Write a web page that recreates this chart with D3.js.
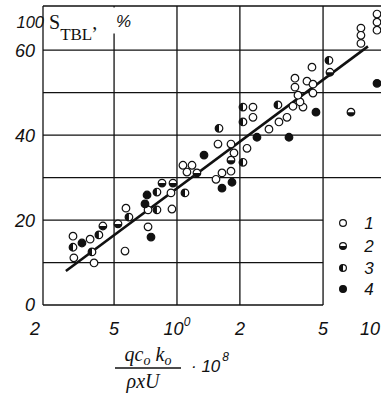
<!DOCTYPE html>
<html>
<head>
<meta charset="utf-8">
<script src="https://cdn.jsdelivr.net/npm/d3@7"></script>
<style>
  body { margin: 0; background: #fff; }
  text { fill: #111; }
</style>
</head>
<body>
<svg id="chart" width="381" height="400"></svg>
<script>
// x: q c0 k0 / (rho x U) * 1e8 (log), y: 100 S_TBL, %
const series1 = [ // open circles
  [0.318,16.2],[0.384,15.5],[0.321,11.1],[0.401,9.9],[0.570,22.8],[0.564,12.7],
  [0.727,22.4],[0.727,18.4],[0.936,26.4],[0.946,22.6],[1.068,32.9],[1.18,32.9],
  [1.116,31.3],[1.571,37.9],[1.813,37.9],[1.874,35.8],[2.163,36.9],[1.813,31.5],
  [1.642,31.1],[1.537,29.6],[2.310,46.6],[2.310,44.2],[2.755,41.4],[3.076,43.1],
  [3.360,44.2],[3.589,46.8],[4.009,46.6],[3.878,47.8],[3.793,49.4],[3.669,51.3],
  [4.474,49.9],[3.669,53.4],[4.188,52.7],[4.474,52.0],[4.425,56.0],
  [7.59,65.2],[7.59,63.5],[7.59,61.6],[9.06,68.5],[9.06,66.6],[9.06,64.7]
];
const series2 = [ // lower half filled
  [0.442,18.6],[0.522,19.1],[0.848,28.7],[0.957,28.7],[1.246,31.1],[1.813,34.1],
  [5.396,54.8],[6.80,45.4]
];
const series3 = [ // left half filled
  [0.318,13.6],[0.423,16.5],[0.392,12.5],[0.589,20.7],[0.802,26.6],[0.802,22.4],
  [1.092,26.4],[2.069,33.6],[1.589,41.6],[2.069,46.6],[2.069,43.1],[3.042,47.1],
  [5.337,57.6]
];
const series4 = [ // filled
  [0.351,14.6],[0.703,23.8],[0.719,25.9],[0.751,16.0],[1.347,35.3],[1.833,28.9],
  [1.642,27.5],[2.414,39.5],[3.435,39.5],[4.624,45.4],[9.06,52.2]
];
const trendX = [0.294, 8.2];
const trendY = [8.0, 60.9];

const xTicks = [0.2, 0.5, 1, 2, 5, 10];
const xTickLabels = ["2", "5", "10", "2", "5", "10"];
const xGrid = [0.5, 1, 2, 5];
const yTicks = [0, 20, 40, 60];
const yGrid = [10, 20, 30, 40, 50, 60];
const legendLabels = ["1", "2", "3", "4"];

const svg = d3.select("#chart");
svg.append("rect").attr("width", 381).attr("height", 400).attr("fill", "#fff");

const x = d3.scaleLog().domain([0.2285, 9.16]).range([43, 378]).clamp(true);
const y = d3.scaleLinear().domain([0, 70.4]).range([305, 6]);

const ink = "#111";
const grid = svg.append("g").attr("stroke", ink).attr("stroke-width", 1.3);

// frame
grid.append("line").attr("x1", x(0.2)).attr("x2", x(0.2)).attr("y1", y(70.4)).attr("y2", y(0));
grid.append("line").attr("x1", x(0.2)).attr("x2", 381).attr("y1", y(70.4)).attr("y2", y(70.4));
grid.append("line").attr("x1", x(0.2)).attr("x2", x(5)).attr("y1", y(0)).attr("y2", y(0));

// vertical grid
grid.selectAll(".vg").data(xGrid).join("line")
  .attr("x1", d => x(d)).attr("x2", d => x(d))
  .attr("y1", y(70.4)).attr("y2", y(0));

// horizontal grid (lower ones stop at the legend)
grid.selectAll(".hg").data(yGrid).join("line")
  .attr("x1", x(0.2))
  .attr("x2", d => d <= 20 ? x(5) : 381)
  .attr("y1", d => y(d)).attr("y2", d => y(d));

// white patch behind y title
svg.append("rect").attr("x", 100).attr("y", 7.5).attr("width", 40).attr("height", 26).attr("fill", "#fff");

// regression line
svg.append("line")
  .attr("x1", x(trendX[0])).attr("y1", y(trendY[0]))
  .attr("x2", x(trendX[1])).attr("y2", y(trendY[1]))
  .attr("stroke", ink).attr("stroke-width", 2.6);

// markers
function marker(g, type, r) {
  g.append("circle").attr("r", r).attr("fill", type === 4 ? ink : "#fff")
    .attr("stroke", ink).attr("stroke-width", 1.2);
  if (type === 2) {
    g.append("path").attr("d", `M${-r},0A${r},${r} 0 0 0 ${r},0Z`).attr("fill", ink);
  } else if (type === 3) {
    g.append("path").attr("d", `M0,${-r}A${r},${r} 0 0 0 0,${r}Z`).attr("fill", ink);
  }
}

const allSeries = [series1, series2, series3, series4];
allSeries.forEach((s, i) => {
  svg.append("g").selectAll("g").data(s).join("g")
    .attr("transform", d => `translate(${x(d[0])},${y(d[1])})`)
    .each(function () { marker(d3.select(this), i + 1, 3.8); });
});

// x tick labels
const xt = svg.append("g")
  .attr("font-family", "Liberation Sans, Arial, sans-serif")
  .attr("font-style", "italic").attr("font-size", 18);
xTicks.forEach((v, i) => {
  const t = xt.append("text")
    .attr("x", x(v) + (i === 0 ? -8 : i === xTicks.length - 1 ? -8 : 0))
    .attr("y", 335).attr("text-anchor", "middle");
  t.append("tspan").text(xTickLabels[i]);
  if (i === 2) t.append("tspan").attr("font-size", 12).attr("dy", -9).text("0");
});

// y tick labels
const yt = svg.append("g")
  .attr("font-family", "Liberation Sans, Arial, sans-serif")
  .attr("font-style", "italic").attr("font-size", 18).attr("text-anchor", "end");
yt.selectAll("text").data(yTicks).join("text")
  .attr("x", 35).attr("y", d => y(d)).attr("dy", "0.36em").text(d => d);

// y title
yt.append("text").attr("x", 44).attr("y", 28).attr("font-size", 16.5).text("100");
const yl = svg.append("text").attr("x", 49).attr("y", 29)
  .attr("font-family", "Liberation Serif, Times New Roman, serif").attr("font-size", 20);
yl.append("tspan").text("S");
yl.append("tspan").attr("font-size", 17).attr("dy", 11).text("TBL");
yl.append("tspan").attr("dy", -11).text(",");
svg.append("text").attr("x", 116).attr("y", 27)
  .attr("font-family", "Liberation Sans, Arial, sans-serif")
  .attr("font-style", "italic").attr("font-size", 17).text("%");

// x title
const xl = svg.append("g")
  .attr("font-family", "Liberation Serif, Times New Roman, serif")
  .attr("font-style", "italic").attr("font-size", 20);
const num = xl.append("text").attr("x", 148).attr("y", 361).attr("text-anchor", "middle");
num.append("tspan").text("qc");
num.append("tspan").attr("font-size", 14).attr("dy", 4).text("o");
num.append("tspan").attr("dy", -4).text(" k");
num.append("tspan").attr("font-size", 14).attr("dy", 4).text("o");
xl.append("line").attr("x1", 115).attr("x2", 181).attr("y1", 368).attr("y2", 368)
  .attr("stroke", ink).attr("stroke-width", 1.3);
xl.append("text").attr("x", 143).attr("y", 388).attr("text-anchor", "middle").text("ρxU");
const mult = xl.append("text").attr("x", 191).attr("y", 372)
  .attr("font-family", "Liberation Sans, Arial, sans-serif").attr("font-size", 17);
mult.append("tspan").text("· 10");
mult.append("tspan").attr("font-size", 12).attr("dy", -11).attr("dx", 2).text("8");

// legend
const lg = svg.append("g");
const legendY = [223, 246, 268, 289];
legendLabels.forEach((lab, i) => {
  const g = lg.append("g").attr("transform", `translate(343,${legendY[i]})`);
  marker(g, i + 1, 3.4);
  g.append("text").attr("x", 26).attr("dy", "0.36em").attr("text-anchor", "middle")
    .attr("font-family", "Liberation Sans, Arial, sans-serif")
    .attr("font-style", "italic").attr("font-size", 17).text(lab);
});
</script>
</body>
</html>
